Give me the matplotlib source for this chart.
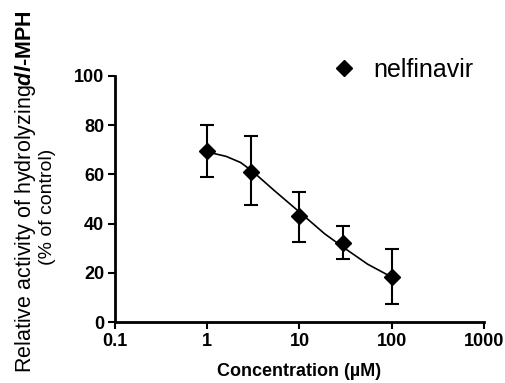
import numpy as np
import matplotlib
matplotlib.use('Agg')
import matplotlib.pyplot as plt
from matplotlib.lines import Line2D

plt.rcParams['font.family'] = ['Liberation Sans', 'DejaVu Sans']
plt.rcParams['mathtext.fontset'] = 'custom'
plt.rcParams['mathtext.it'] = 'Liberation Sans:italic:bold'
plt.rcParams['mathtext.bf'] = 'Liberation Sans:bold'
plt.rcParams['mathtext.rm'] = 'Liberation Sans'

# Data
conc = [1, 3, 10, 30, 100]
activity = [69.5, 61.0, 43.0, 32.0, 18.3]
err_low = [10.5, 13.5, 10.5, 6.5, 10.8]
err_high = [10.5, 14.5, 10.0, 7.0, 11.2]

# fitted curve, points
curve_x = [1.0, 1.6, 2.3, 3.1, 5.3, 10.0, 18.7, 30.9, 55.0, 100.0]
curve_y = [69.1, 67.3, 64.8, 61.2, 53.5, 44.7, 35.9, 30.0, 23.5, 18.3]

xticks = [0.1, 1, 10, 100, 1000]
xticklabels = ['0.1', '1', '10', '100', '1000']
yticks = [0, 20, 40, 60, 80, 100]

fig = plt.figure(figsize=(5.05, 3.83), dpi=100)
ax = fig.add_axes([0.228, 0.159, 0.730, 0.643])

ax.plot(curve_x, curve_y, color='black', lw=1.2)
ax.errorbar(conc, activity, yerr=[err_low, err_high], fmt='D', color='black',
            ms=8, elinewidth=1.5, capsize=5, capthick=1.5)

ax.set_xscale('log')
ax.set_xlim(0.1, 1000)
ax.set_ylim(0, 100)
ax.set_xticks(xticks)
ax.set_xticklabels(xticklabels)
ax.xaxis.set_minor_locator(matplotlib.ticker.NullLocator())
ax.set_yticks(yticks)

for s in ['top', 'right']:
    ax.spines[s].set_visible(False)
for s in ['left', 'bottom']:
    ax.spines[s].set_linewidth(2)
ax.tick_params(width=1.5, length=5, direction='out', labelsize=13, pad=3)
for lab in ax.get_xticklabels() + ax.get_yticklabels():
    lab.set_fontweight('bold')

ax.set_xlabel('Concentration (\u00b5M)', fontsize=13, fontweight='bold', labelpad=9)

ylab1 = 'Relative activity of hydrolyzing' + r'$\it{dl}$' + '$\\bf{\u2010MPH}$'
fig.text(0.05, 0.5, ylab1, rotation=90, ha='center', va='center', fontsize=15.5)
fig.text(0.095, 0.46, '(% of control)', rotation=90, ha='center', va='center',
         fontsize=14)

handle = Line2D([], [], marker='D', color='black', ls='none', ms=8)
ax.legend([handle], ['nelfinavir'], loc='lower right', bbox_to_anchor=(1.0, 0.935),
          frameon=False, fontsize=18, handletextpad=0.6, borderaxespad=0,
          handlelength=1.2)

fig.savefig('out.png', dpi=100)
